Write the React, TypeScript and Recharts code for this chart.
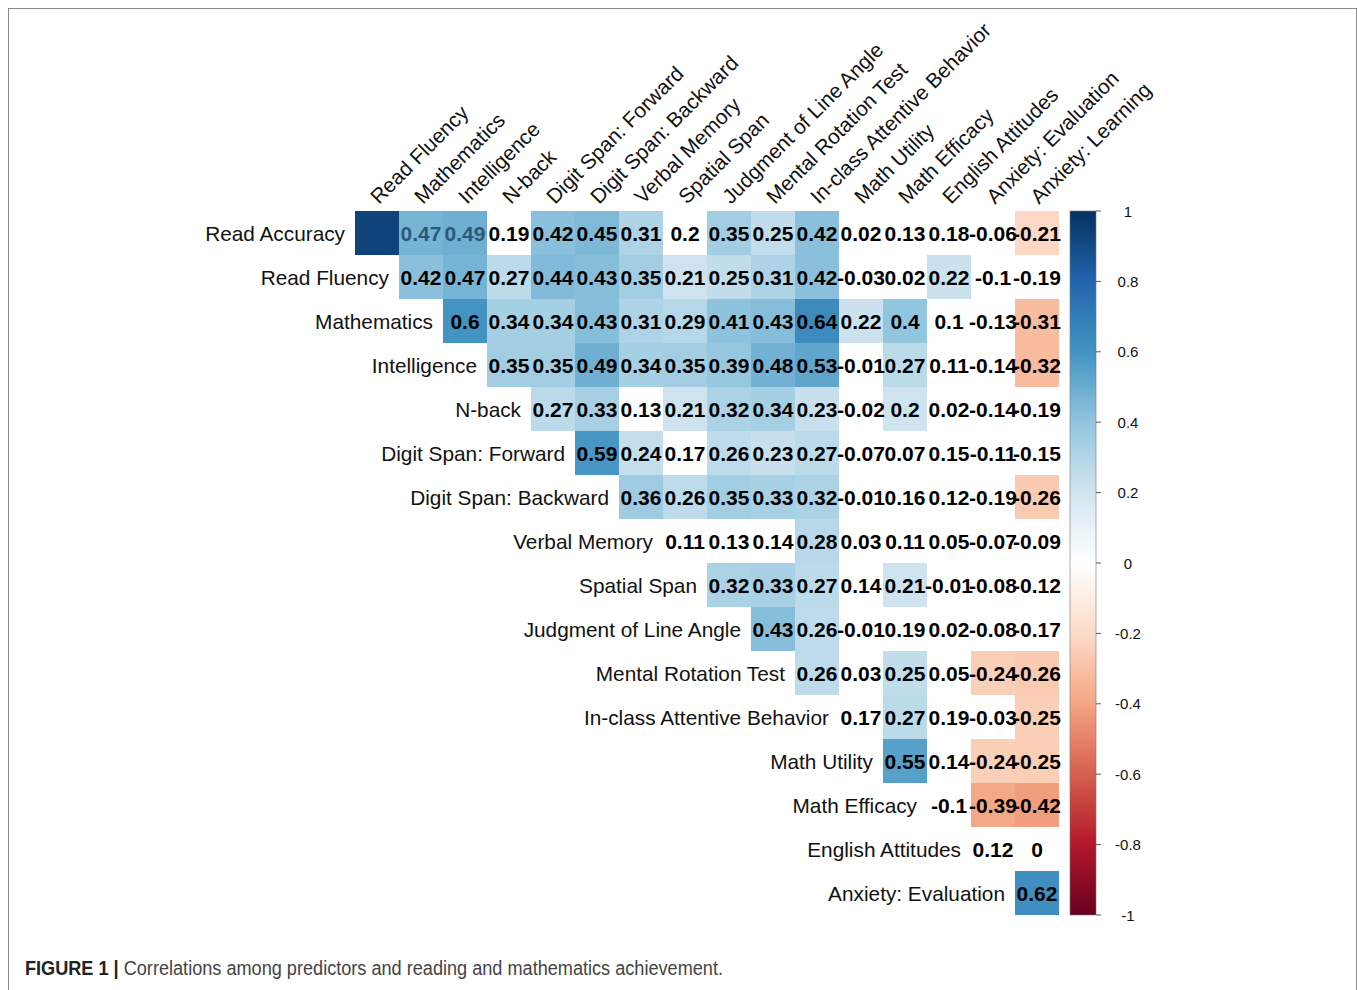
import React from "react";
import { ScatterChart, Scatter, XAxis, YAxis, ReferenceArea } from "recharts";

// ---------- data ----------
const ROW_NAMES = [
  "Read Accuracy", "Read Fluency", "Mathematics", "Intelligence", "N-back",
  "Digit Span: Forward", "Digit Span: Backward", "Verbal Memory", "Spatial Span",
  "Judgment of Line Angle", "Mental Rotation Test", "In-class Attentive Behavior",
  "Math Utility", "Math Efficacy", "English Attitudes", "Anxiety: Evaluation",
];
const COL_NAMES = [
  "Read Fluency", "Mathematics", "Intelligence", "N-back", "Digit Span: Forward",
  "Digit Span: Backward", "Verbal Memory", "Spatial Span", "Judgment of Line Angle",
  "Mental Rotation Test", "In-class Attentive Behavior", "Math Utility", "Math Efficacy",
  "English Attitudes", "Anxiety: Evaluation", "Anxiety: Learning",
];

// each row starts at the column with the same index (upper triangle)
const readAccuracy = [0.93, 0.47, 0.49, 0.19, 0.42, 0.45, 0.31, 0.196, 0.35, 0.25, 0.42, 0.02, 0.13, 0.18, -0.06, -0.21];
const readFluency = [0.42, 0.47, 0.27, 0.44, 0.43, 0.35, 0.21, 0.25, 0.31, 0.42, -0.03, 0.02, 0.22, -0.1, -0.19];
const mathematics = [0.6, 0.34, 0.34, 0.43, 0.31, 0.29, 0.41, 0.43, 0.64, 0.22, 0.4, 0.1, -0.13, -0.31];
const intelligence = [0.35, 0.35, 0.49, 0.34, 0.35, 0.39, 0.48, 0.53, -0.01, 0.27, 0.11, -0.14, -0.32];
const nBack = [0.27, 0.33, 0.13, 0.21, 0.32, 0.34, 0.23, -0.02, 0.204, 0.02, -0.14, -0.19];
const digitForward = [0.59, 0.24, 0.17, 0.26, 0.23, 0.27, -0.07, 0.07, 0.15, -0.11, -0.15];
const digitBackward = [0.36, 0.26, 0.35, 0.33, 0.32, -0.01, 0.16, 0.12, -0.19, -0.26];
const verbalMemory = [0.11, 0.13, 0.14, 0.28, 0.03, 0.11, 0.05, -0.07, -0.09];
const spatialSpan = [0.32, 0.33, 0.27, 0.14, 0.21, -0.01, -0.08, -0.12];
const lineAngle = [0.43, 0.26, -0.01, 0.19, 0.02, -0.08, -0.17];
const mentalRotation = [0.26, 0.03, 0.25, 0.05, -0.24, -0.26];
const attentive = [0.17, 0.27, 0.19, -0.03, -0.25];
const mathUtility = [0.55, 0.14, -0.24, -0.25];
const mathEfficacy = [-0.1, -0.39, -0.42];
const englishAttitudes = [0.12, 0];
const anxietyEvaluation = [0.62];

const ROWS = [
  readAccuracy, readFluency, mathematics, intelligence, nBack, digitForward,
  digitBackward, verbalMemory, spatialSpan, lineAngle, mentalRotation, attentive,
  mathUtility, mathEfficacy, englishAttitudes, anxietyEvaluation,
];

const SIG_THRESHOLD = 0.2; // |r| below this is left blank (white)
const CB_TICKS = [-1, -0.8, -0.6, -0.4, -0.2, 0, 0.2, 0.4, 0.6, 0.8, 1];
const HIDDEN_TEXT = ["0-0"];
const STEEL_TEXT = ["0-1", "0-2"];

// RdBu palette (corrplot COL2)
const RDBU = ["#67001F", "#B2182B", "#D6604D", "#F4A582", "#FDDBC7", "#FFFFFF", "#D1E5F0", "#92C5DE", "#4393C3", "#2166AC", "#053061"];

// ---------- helpers ----------
const hex = (c: string) => [1, 3, 5].map((i) => parseInt(c.slice(i, i + 2), 16));
function colorFor(v: number): string {
  const t = ((Math.max(-1, Math.min(1, v)) + 1) / 2) * (RDBU.length - 1);
  const i = Math.min(RDBU.length - 2, Math.floor(t));
  const f = t - i;
  const a = hex(RDBU[i]);
  const b = hex(RDBU[i + 1]);
  const m = a.map((x, k) => Math.round(x + (b[k] - x) * f));
  return `rgb(${m[0]},${m[1]},${m[2]})`;
}
const fmt = (v: number) => String(Number(v.toFixed(2)));

const cells: any[] = [];
ROWS.forEach((row, i) => {
  row.forEach((v, k) => {
    cells.push({ x: i + k, y: i, v, row: i, first: k === 0, key: `${i}-${i + k}` });
  });
});

// ---------- layout ----------
const W = 1357;
const H = 990;
const PLOT_LEFT = 355;
const PLOT_TOP = 211;
const PLOT_RIGHT = 1096;
const PLOT_BOTTOM = 915;
const NROW = ROW_NAMES.length;
const CELL = (PLOT_BOTTOM - PLOT_TOP) / NROW; // 44
const X_MAX = -0.5 + (PLOT_RIGHT - PLOT_LEFT) / CELL;
const CB_LEFT_U = -0.5 + (1070 - PLOT_LEFT) / CELL;
const CB_AXIS_W = 60;
const X_AXIS_H = 30;
const FONT = "'Liberation Sans', Arial, Helvetica, sans-serif";
const LABEL_SIZE = 20.8;
const VALUE_SIZE = 21;

const RectShape = (props: any) => {
  const { cx, cy, payload } = props;
  if (Math.abs(payload.v) < SIG_THRESHOLD) return <g />;
  return (
    <rect x={cx - CELL / 2} y={cy - CELL / 2} width={CELL} height={CELL} fill={colorFor(payload.v)} />
  );
};

const TextShape = (props: any) => {
  const { cx, cy, payload } = props;
  let fill = "#000";
  if (HIDDEN_TEXT.includes(payload.key)) fill = colorFor(payload.v);
  else if (STEEL_TEXT.includes(payload.key)) fill = "#2d5878";
  return (
    <g>
      <text
        x={cx}
        y={cy}
        textAnchor="middle"
        dominantBaseline="central"
        fontFamily={FONT}
        fontWeight="bold"
        fontSize={VALUE_SIZE}
        fill={fill}
      >
        {fmt(payload.v)}
      </text>
      {payload.first ? (
        <text
          x={cx - CELL / 2 - 10}
          y={cy}
          textAnchor="end"
          dominantBaseline="central"
          fontFamily={FONT}
          fontSize={LABEL_SIZE}
          fill="#111"
        >
          {ROW_NAMES[payload.row]}
        </text>
      ) : null}
    </g>
  );
};

const ColTick = (props: any) => {
  const { x, y, payload } = props;
  const tx = x + 2;
  return (
    <text
      x={tx}
      y={y}
      transform={`rotate(-45 ${tx} ${y})`}
      textAnchor="start"
      fontFamily={FONT}
      fontSize={LABEL_SIZE}
      fill="#111"
    >
      {COL_NAMES[payload.value]}
    </text>
  );
};

const CbTick = (props: any) => {
  const { x, y, payload } = props;
  return (
    <text x={x + 25} y={y} textAnchor="middle" dominantBaseline="central" fontFamily={FONT} fontSize={15} fill="#111">
      {String(payload.value)}
    </text>
  );
};

export default function App() {
  return (
    <div>
      <style>{`body{overflow:hidden;}`}</style>
      <div
        style={{
          position: "absolute",
          left: 8,
          top: 8,
          width: W - 8,
          height: H,
          boxSizing: "border-box",
          border: "1px solid #8a8a8a",
        }}
      />
      <div style={{ position: "absolute", left: 0, top: 0, width: W, height: H }}>
        <ScatterChart
          width={W}
          height={H}
          margin={{
            top: PLOT_TOP - X_AXIS_H,
            left: PLOT_LEFT,
            right: W - PLOT_RIGHT - CB_AXIS_W,
            bottom: H - PLOT_BOTTOM,
          }}
        >
          <defs>
            <linearGradient id="cbGrad" x1="0" y1="0" x2="0" y2="1">
              {RDBU.slice()
                .reverse()
                .map((c, i) => (
                  <stop key={i} offset={`${(i / (RDBU.length - 1)) * 100}%`} stopColor={c} />
                ))}
            </linearGradient>
          </defs>
          <XAxis
            type="number"
            dataKey="x"
            orientation="top"
            domain={[-0.5, X_MAX]}
            ticks={COL_NAMES.map((_, i) => i)}
            interval={0}
            tick={ColTick}
            tickLine={false}
            axisLine={false}
            tickSize={0}
            tickMargin={6}
            height={X_AXIS_H}
          />
          <YAxis yAxisId="rows" type="number" dataKey="y" domain={[-0.5, NROW - 0.5]} reversed hide />
          <YAxis
            yAxisId="cb"
            orientation="right"
            type="number"
            domain={[-1, 1]}
            allowDataOverflow
            ticks={CB_TICKS}
            interval={0}
            width={CB_AXIS_W}
            tick={CbTick}
            tickSize={5}
            tickLine={{ stroke: "#555" }}
            axisLine={false}
          />
          <ReferenceArea
            yAxisId="cb"
            x1={CB_LEFT_U}
            x2={X_MAX}
            y1={-1}
            y2={1}
            fill="url(#cbGrad)"
            fillOpacity={1}
            stroke="#777"
            strokeWidth={0.6}
            ifOverflow="visible"
          />
          <Scatter yAxisId="rows" data={cells} shape={RectShape} isAnimationActive={false} />
          <Scatter yAxisId="rows" data={cells} shape={TextShape} isAnimationActive={false} />
        </ScatterChart>
      </div>
      <svg
        width={760}
        height={30}
        style={{ position: "absolute", left: 25, top: 955, overflow: "visible" }}
      >
        <text
          x={0}
          y={20}
          textLength={698}
          lengthAdjust="spacingAndGlyphs"
          fontFamily={FONT}
          fontSize={19.5}
          fill="#444"
        >
          <tspan fontWeight="bold" fill="#222">FIGURE 1 | </tspan>
          <tspan>Correlations among predictors and reading and mathematics achievement.</tspan>
        </text>
      </svg>
    </div>
  );
}
